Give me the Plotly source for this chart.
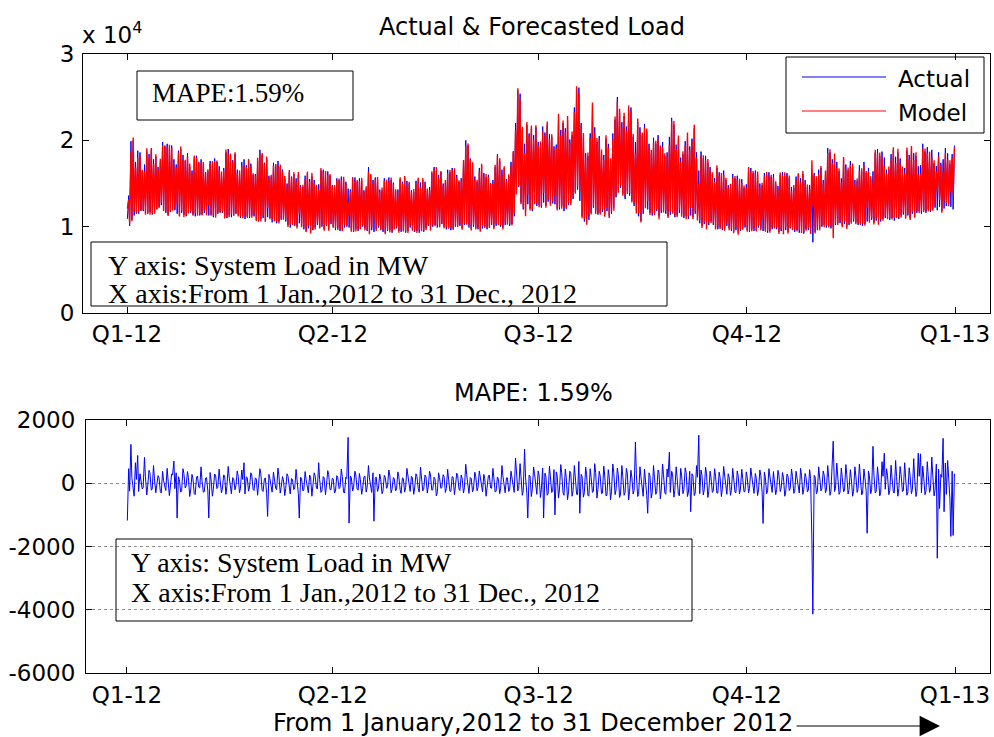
import pandas as pd
import plotly.graph_objects as go

# ---------------- data ----------------
quarter_labels = ["Q1-12", "Q2-12", "Q3-12", "Q4-12", "Q1-13"]
quarter_dates = ["2012-01-01", "2012-04-01", "2012-07-01", "2012-10-01", "2013-01-01"]

# daily peak load (thousand MW), one row per week starting Sun 1 Jan 2012
actual_high_gw = [
    13.6, 19.9, 20.0, 17.5, 18.8, 18.6, 16.4,
    17.2, 18.7, 18.4, 18.9, 17.8, 18.1, 16.9,
    17.6, 19.8, 19.3, 19.6, 19.1, 19.4, 17.8,
    17.2, 18.8, 19.0, 18.3, 17.6, 18.5, 16.9,
    16.5, 17.9, 18.2, 17.4, 17.8, 17.2, 16.3,
    16.4, 17.6, 17.2, 17.9, 17.5, 17.0, 16.1,
    16.8, 18.6, 19.0, 18.2, 17.7, 18.4, 16.6,
    16.2, 17.5, 17.8, 17.1, 17.6, 17.3, 16.0,
    16.1, 17.6, 18.9, 18.3, 17.4, 17.8, 15.9,
    15.8, 17.4, 17.1, 17.6, 16.9, 16.6, 15.5,
    15.0, 16.3, 15.8, 16.1, 15.6, 16.0, 14.8,
    14.6, 15.9, 16.2, 15.5, 15.8, 15.4, 14.7,
    14.9, 16.5, 16.6, 16.1, 16.4, 15.9, 14.8,
    14.5, 15.6, 15.4, 15.8, 15.5, 15.2, 14.4,
    14.3, 15.5, 15.7, 15.2, 15.6, 15.3, 14.2,
    14.4, 16.9, 15.9, 15.4, 15.7, 15.5, 14.3,
    14.2, 15.6, 15.3, 15.7, 15.4, 15.1, 14.1,
    14.3, 15.5, 15.2, 15.6, 15.3, 15.0, 14.2,
    14.0, 15.3, 15.5, 15.1, 15.4, 15.2, 14.1,
    14.6, 16.2, 16.9, 16.5, 16.0, 16.3, 15.0,
    15.1, 16.6, 16.3, 16.8, 16.4, 16.0, 15.2,
    15.6, 17.4, 20.0, 19.4, 17.9, 17.2, 15.8,
    15.2, 16.8, 17.1, 16.2, 15.7, 16.0, 14.9,
    15.4, 16.9, 18.4, 17.6, 16.6, 16.8, 15.5,
    15.8, 17.5, 18.6, 22.0, 25.8, 25.4, 21.2,
    19.6, 21.8, 20.8, 21.3, 20.6, 21.5, 19.8,
    19.4, 21.6, 20.9, 21.8, 20.7, 20.4, 19.3,
    19.5, 22.6, 21.2, 22.0, 21.4, 22.3, 20.1,
    20.6, 23.8, 25.9, 26.1, 22.0, 20.4, 18.5,
    18.2, 20.8, 24.1, 21.5, 19.8, 20.5, 18.6,
    18.3, 20.2, 19.6, 17.4, 20.8, 22.4, 25.0,
    23.2, 22.1, 22.8, 21.6, 23.5, 23.8, 20.4,
    19.8, 22.1, 21.5, 20.6, 21.9, 21.0, 19.6,
    18.4, 20.3, 19.6, 20.6, 18.9, 19.8, 18.2,
    18.6, 20.4, 22.6, 21.8, 19.5, 20.2, 18.0,
    18.4, 19.9, 20.5, 19.3, 20.2, 21.4, 18.6,
    16.5, 18.7, 17.9, 18.2, 17.4, 16.9, 16.0,
    15.6, 16.8, 16.3, 15.8, 16.5, 15.4, 14.8,
    14.6, 16.1, 15.6, 15.9, 15.2, 15.5, 14.5,
    14.9, 16.6, 16.8, 16.2, 16.5, 16.0, 15.0,
    14.8, 16.2, 16.0, 16.3, 15.8, 16.1, 14.9,
    14.7, 16.0, 16.3, 15.9, 16.2, 15.7, 14.6,
    14.5, 15.8, 16.0, 15.6, 16.1, 15.4, 14.6,
    14.8, 15.9, 16.2, 15.5, 16.6, 16.8, 15.4,
    16.2, 19.1, 18.6, 17.8, 18.2, 17.5, 16.4,
    15.6, 17.8, 17.2, 16.5, 17.6, 16.9, 15.4,
    15.3, 17.1, 16.4, 17.5, 16.2, 16.8, 15.5,
    16.4, 18.6, 19.0, 18.2, 18.7, 18.0, 16.6,
    16.6, 18.4, 18.9, 18.1, 18.6, 17.9, 16.7,
    16.8, 18.8, 18.3, 19.0, 18.5, 18.2, 17.0,
    17.1, 19.6, 18.7, 19.2, 18.4, 18.9, 17.3,
    17.0, 18.6, 17.4, 17.8, 19.1, 18.5, 17.2,
    18.4, 19.4,
]

# daily minimum load (thousand MW)
actual_low_gw = [
    10.9, 10.1, 10.8, 11.3, 11.6, 11.5, 11.9,
    11.8, 11.6, 11.5, 11.7, 11.4, 11.6, 12.0,
    12.3, 12.5, 11.9, 11.6, 11.4, 11.7, 12.1,
    11.9, 11.5, 11.3, 11.6, 11.4, 11.2, 11.7,
    11.6, 11.4, 11.2, 11.5, 11.3, 11.4, 11.6,
    11.5, 11.3, 11.4, 11.1, 11.3, 11.5, 11.7,
    11.6, 11.2, 11.0, 11.3, 11.1, 11.4, 11.5,
    11.4, 11.0, 11.1, 10.9, 11.2, 11.0, 11.3,
    11.2, 10.8, 10.6, 10.9, 11.0, 10.7, 11.1,
    11.0, 10.5, 10.7, 10.4, 10.6, 10.8, 10.9,
    10.6, 10.2, 9.9, 10.3, 10.1, 10.0, 10.4,
    10.1, 9.7, 9.5, 9.8, 9.4, 9.6, 9.9,
    10.2, 9.9, 10.0, 9.7, 10.1, 9.8, 10.3,
    10.0, 9.6, 9.8, 9.5, 9.7, 9.9, 10.1,
    9.9, 9.6, 9.4, 9.7, 9.5, 9.8, 10.0,
    9.8, 9.5, 9.3, 9.6, 9.4, 9.7, 9.9,
    9.7, 9.4, 9.3, 9.5, 9.6, 9.3, 9.8,
    9.8, 9.5, 9.4, 9.6, 9.3, 9.5, 9.9,
    9.7, 9.4, 9.5, 9.3, 9.6, 9.4, 9.8,
    10.1, 9.8, 10.0, 10.2, 9.9, 10.1, 10.3,
    10.0, 9.7, 9.9, 9.6, 9.8, 10.0, 10.2,
    10.1, 9.8, 10.2, 10.5, 9.9, 9.7, 10.0,
    9.9, 9.7, 9.6, 9.8, 10.0, 9.7, 10.1,
    10.2, 9.9, 10.1, 10.3, 10.0, 9.9, 10.2,
    10.4, 10.1, 10.3, 11.2, 14.0, 14.6, 12.8,
    12.0, 11.4, 12.6, 12.1, 11.8, 12.9, 12.4,
    12.5, 12.2, 12.8, 12.4, 12.9, 12.6, 12.7,
    12.6, 12.1, 12.0, 12.4, 11.8, 12.2, 12.5,
    12.8, 13.2, 14.0, 14.3, 13.0, 11.2, 10.6,
    10.5, 10.8, 11.6, 12.2, 11.8, 11.4, 11.6,
    11.7, 11.4, 11.8, 11.2, 11.5, 12.2, 13.4,
    14.2, 14.5, 13.8, 13.2, 14.1, 13.6, 13.0,
    12.4, 11.8, 11.2, 10.7, 11.5, 12.3, 12.0,
    11.6, 11.3, 11.5, 11.8, 11.2, 11.6, 11.9,
    11.5, 11.2, 11.4, 11.8, 11.1, 11.3, 11.6,
    11.4, 11.0, 11.2, 10.9, 11.3, 11.1, 11.5,
    10.9, 10.4, 10.1, 10.3, 10.0, 10.2, 10.6,
    10.2, 9.9, 9.7, 9.9, 9.6, 9.8, 10.1,
    9.8, 9.5, 9.4, 9.6, 9.3, 9.5, 9.8,
    9.9, 9.6, 9.4, 9.7, 9.5, 9.6, 9.9,
    9.8, 9.5, 9.6, 9.3, 9.5, 9.7, 9.9,
    9.7, 9.4, 9.5, 9.3, 9.6, 9.4, 9.8,
    9.8, 9.4, 9.6, 9.3, 9.5, 9.2, 9.7,
    9.6, 9.3, 8.2, 9.4, 9.6, 9.8, 10.0,
    10.2, 9.9, 10.1, 9.8, 10.0, 10.2, 10.4,
    10.4, 10.1, 10.3, 10.0, 10.2, 10.5, 10.6,
    10.5, 10.2, 10.4, 10.1, 10.3, 10.6, 10.7,
    10.8, 10.5, 10.7, 10.4, 10.6, 10.9, 11.0,
    11.1, 10.8, 11.0, 10.7, 11.2, 10.9, 11.3,
    11.4, 11.1, 11.3, 11.0, 11.5, 11.2, 11.6,
    11.8, 11.5, 11.9, 11.6, 12.0, 11.7, 12.1,
    12.2, 11.9, 12.3, 11.8, 12.1, 12.4, 12.6,
    12.3, 12.0,
]

# forecast error (actual - model, MW): [at daily low, at daily peak] for each day
error_mw = [
    -1180, 460, -250, 1230, 180, -320, -410, 650, 120, 880, -260, 300, 90, -180,
    -140, 820, 210, -370, -90, 410, 330, -220, -180, 560, 140, -300, -60, 240,
    170, -260, -310, 380, 90, -140, -230, 470, 150, -390, -120, 290, 260, 700,
    -170, 330, -1100, 210, 120, -280, -240, 460, 310, -150, -90, 370, 180, -420,
    -210, 280, 140, -330, -360, 190, 230, -120, -150, 520, 90, -280, -270, 160,
    180, -240, -1100, 340, 130, -410, -200, 290, 260, -170, -130, 450, 110, -300,
    -190, 260, 240, -350, -110, 530, 200, -260, -330, 180, 150, -210, -80, 390,
    220, -300, -160, 420, 120, 650, -340, 200, 180, -250, -120, 330, 260, -190,
    -230, 170, 140, -380, -90, 460, 310, -220, -260, 140, 170, -330, -1050, 280,
    150, -210, -280, 350, 90, -160, -200, 480, 240, -310, -130, 210, 110, -390,
    -170, 300, 230, -260, -340, 150, 120, -200, -150, 440, 200, -330, -1100, 190,
    160, -240, -220, 370, 130, -180, -300, 260, 190, -410, -110, 330, 240, -150,
    -180, 650, 120, -290, -250, 210, 170, -360, -90, 400, 280, -200, -210, 160,
    140, -310, -260, 240, 190, -170, -130, 450, 220, -280, -310, 190, 150, 1450,
    -1260, 230, 180, -240, -140, 380, 260, -190, -220, 310, 110, -350, -170, 200,
    230, -280, -120, 560, 170, -210, -290, 330, -1200, 150, 200, -260, -150, 290,
    120, -330, -240, 250, 190, -160, -110, 420, 260, -300, -200, 180, 140, -240,
    -180, 360, 210, -210, -320, 170, 150, -280, -130, 470, 240, -190, -260, 220,
    170, -350, -150, 300, 220, -170, -280, 510, 130, -240, -190, 260, 200, -310,
    -120, 380, 260, -220, -210, 190, 140, -400, -300, 330, 180, -160, -140, 270,
    210, -290, -170, 440, 130, -250, -260, 210, 190, -360, -110, 320, 250, -180,
    -230, 260, 160, -310, -140, 600, 270, -220, -320, 180, 150, -270, -190, 350,
    220, -240, -130, 390, 180, -190, -270, 280, 140, -410, -210, 230, 260, -150,
    -160, 470, 190, -280, -250, 200, 130, -330, -180, 560, 240, -210, -300, 170,
    170, -260, -200, 380, 150, -170, -290, 800, 280, -240, -170, 620, 210, -380,
    -240, 1080, 190, -310, -1100, 260, 230, -420, -180, 510, 300, -260, -350, 390,
    260, -450, -190, 480, -1100, 320, 210, -380, -330, 540, 170, -290, -260, 430,
    -1000, 360, 240, -470, -210, 590, 330, -300, -380, 450, 190, -520, -270, 380,
    310, -410, -240, 560, 200, -350, -360, 690, -950, 280, 220, -440, -300, 510,
    270, -380, -410, 460, 180, -290, -250, 620, 340, -470, -200, 380, 230, -330,
    -310, 540, 260, -400, -380, 430, 190, -520, -270, 610, 350, -360, -220, 480,
    280, -450, -340, 560, 210, -380, -290, 470, 320, -530, -250, 410, 190, -340,
    -230, 1300, 270, -420, -360, 520, 220, -310, -410, 450, 180, -380, -950, 330,
    240, -470, -300, 560, 190, -350, -260, 420, 330, -490, -210, 610, 270, -300,
    -350, 450, 200, 980, -290, 380, 310, -440, -230, 520, 180, -360, -400, 470,
    260, -330, -210, 490, 340, -420, -280, 380, -900, 300, 230, -390, -310, 560,
    190, 1520, -330, 420, 250, -370, -200, 510, 300, -450, -260, 380, 170, -290,
    -240, 460, 220, -310, -310, 350, 180, -420, -190, 530, 260, -260, -350, 300,
    200, -380, -230, 470, 170, -280, -300, 390, 240, -340, -180, 440, 150, -270,
    -260, 360, 190, -300, -170, 480, 230, -240, -320, 310, 160, -390, -210, 420,
    250, -280, -1270, 350, 180, -330, -240, 460, 210, -210, -290, 370, 140, -360,
    -200, 410, 260, -260, -150, 340, 190, -410, -280, 290, 230, -230, -170, 450,
    210, -320, -260, 380, 170, -200, -310, 470, 240, -350, -190, 310, 180, -270,
    -220, 430, 160, -1800, -4140, 250, 200, -330, -270, 520, 230, -240, -180, 390,
    260, -300, -210, 560, 190, -380, -250, 470, 1330, -260, -170, 640, 220, -350,
    -290, 480, 180, -270, -230, 590, 270, -340, -200, 430, 150, -410, -260, 520,
    230, -290, -170, 610, 200, -370, -310, 450, 180, -260, -1580, 390, 240, -330,
    -200, 1170, 260, -310, -250, 520, 190, -400, -280, 680, 220, 950, -190, 460,
    250, -360, -230, 570, 180, -290, -300, 720, 210, -410, -170, 530, 270, -260,
    -240, 650, 190, -380, -280, 490, 230, -330, -200, 780, 160, -420, -260, 950,
    220, 930, -300, 540, 190, -360, -250, 680, 240, -290, -180, 830, 260, -400,
    -220, 610, -2370, 450, -800, 280, 190, 1420, -900, 640, -350, 720, 230, -500,
    -1680, 380, -1650, 300,
]

assert len(actual_high_gw) == 366 and len(actual_low_gw) == 366 and len(error_mw) == 732

# ---------------- series assembly ----------------
start = pd.Timestamp("2012-01-01")
times, actual_mw = [], []
for d, (lo, hi) in enumerate(zip(actual_low_gw, actual_high_gw)):
    day = start + pd.Timedelta(days=d)
    times += [day + pd.Timedelta(hours=4), day + pd.Timedelta(hours=18)]
    actual_mw += [lo * 1000, hi * 1000]
model_mw = [a - e for a, e in zip(actual_mw, error_mw)]

# ---------------- figure ----------------
W, H = 994, 737
def px(x): return x / W
def py(y): return 1 - y / H

SANS = "DejaVu Sans"
SERIF = "Liberation Serif, Times New Roman, serif"

fig = go.Figure()
fig.add_trace(go.Scatter(x=times, y=actual_mw, mode="lines", name="Actual",
                         line=dict(color="#0000FF", width=1), xaxis="x", yaxis="y"))
fig.add_trace(go.Scatter(x=times, y=model_mw, mode="lines", name="Model",
                         line=dict(color="#FF0000", width=1.4), xaxis="x", yaxis="y"))
fig.add_trace(go.Scatter(x=times, y=error_mw, mode="lines", name="Error",
                         line=dict(color="#0000FF", width=1), xaxis="x2", yaxis="y2"))

q0 = pd.Timestamp(quarter_dates[0])
q4 = pd.Timestamp(quarter_dates[-1])
top_range = [q0 - pd.Timedelta(days=19.45), q4 + pd.Timedelta(days=15.47)]
bot_range = [q0 - pd.Timedelta(days=18.1), q4 + pd.Timedelta(days=15.47)]

axis_common = dict(showline=True, linecolor="black", linewidth=1, mirror="ticks",
                   ticks="inside", ticklen=6, tickcolor="black", zeroline=False,
                   automargin=False,
                   tickfont=dict(family=SANS, size=23, color="black"))

fig.update_layout(
    width=W, height=H, autosize=False,
    margin=dict(l=0, r=0, t=0, b=0, pad=0, autoexpand=False),
    paper_bgcolor="white", plot_bgcolor="white",
    showlegend=False, hovermode=False,
    xaxis=dict(domain=[px(83), px(990)], anchor="y", type="date", range=top_range,
               tickvals=quarter_dates, ticktext=quarter_labels, showgrid=False,
               ticklabelstandoff=0, **axis_common),
    yaxis=dict(domain=[py(313), py(54)], anchor="x", range=[0, 30000],
               tickvals=[0, 10000, 20000, 30000], ticktext=["0", "1", "2", "3"],
               showgrid=False, ticklabelstandoff=3, **axis_common),
    xaxis2=dict(domain=[px(86), px(990)], anchor="y2", type="date", range=bot_range,
                tickvals=quarter_dates, ticktext=quarter_labels, showgrid=False,
                ticklabelstandoff=1, **axis_common),
    yaxis2=dict(domain=[py(673), py(420)], anchor="x2", range=[-6000, 2000],
                tickvals=[-6000, -4000, -2000, 0, 2000],
                ticktext=["-6000", "-4000", "-2000", "0", "2000"],
                showgrid=True, gridcolor="#8c8c8c", griddash="dot", gridwidth=1,
                ticklabelstandoff=5, **axis_common),
)

def rect(x0, y0, x1, y1):
    return dict(type="rect", xref="paper", yref="paper", x0=px(x0), x1=px(x1),
                y0=py(y1), y1=py(y0), line=dict(color="black", width=1),
                fillcolor="rgba(0,0,0,0)")

def hline(x0, x1, y, color):
    return dict(type="line", xref="paper", yref="paper", x0=px(x0), x1=px(x1),
                y0=py(y), y1=py(y), line=dict(color=color, width=1))

fig.update_layout(shapes=[
    rect(137, 71, 353, 120),          # MAPE box
    rect(91, 242, 667, 306),          # top axis-description box
    rect(116, 539, 692, 621),         # bottom axis-description box
    rect(786, 57, 984, 133),          # legend box
    hline(802, 886, 77, "#0000FF"),
    hline(802, 886, 111, "#FF0000"),
])

def ann(text, x, y, size, family=SANS, xanchor="left"):
    return dict(text=text, x=px(x), y=py(y), xref="paper", yref="paper",
                xanchor=xanchor, yanchor="middle", showarrow=False,
                font=dict(family=family, size=size, color="black"))

annotations = [
    ann("Actual &amp; Forecasted Load", 532, 27, 24, xanchor="center"),
    ann("x 10<sup>4</sup>", 80, 33, 23),
    ann("MAPE:1.59%", 150, 93, 27, SERIF),
    ann("Y axis: System Load in MW", 106, 265, 28, SERIF),
    ann("X axis:From 1 Jan.,2012 to 31 Dec., 2012", 106, 294, 28, SERIF),
    ann("Actual", 896, 79, 23),
    ann("Model", 896, 113, 23),
    ann("MAPE: 1.59%", 533, 393, 24, xanchor="center"),
    ann("Y axis: System Load in MW", 129, 562, 28, SERIF),
    ann("X axis:From 1 Jan.,2012 to 31 Dec., 2012", 129, 592, 28, SERIF),
    ann("From 1 January,2012 to 31 December 2012", 795, 723, 24, xanchor="right"),
    dict(text="", x=px(940), y=py(726), xref="paper", yref="paper",
         ax=-145, ay=0, axref="pixel", ayref="pixel", showarrow=True,
         arrowhead=2, arrowsize=3.4, arrowwidth=1.2, arrowcolor="black"),
]
fig.update_layout(annotations=annotations)

fig.write_html("out.html")
